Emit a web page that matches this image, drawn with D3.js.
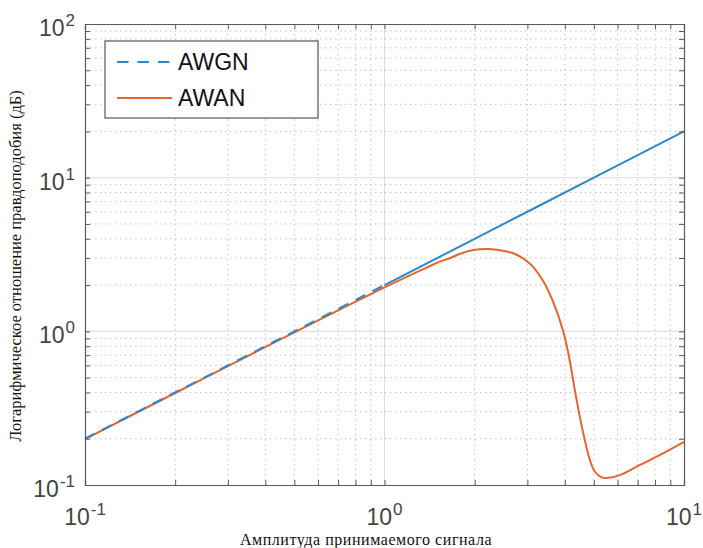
<!DOCTYPE html>
<html>
<head>
<meta charset="utf-8">
<script src="https://cdn.jsdelivr.net/npm/d3@7"></script>
<style>
  html, body { margin: 0; padding: 0; background: #ffffff; }
  svg { display: block; }
</style>
</head>
<body>
<div id="chart"></div>
<script>
// Received amplitude samples and the log-likelihood ratio for each noise model
const awgnAmp = [0.1, 0.2, 0.5, 1, 2, 5, 10];
const awgnLLR = [0.2, 0.4, 1, 2, 4, 10, 20];

const awanAmp = [0.1, 0.2, 0.3, 0.5, 0.7, 1, 1.2, 1.4, 1.53, 1.65, 1.79, 1.98, 2.22, 2.56,
                 2.69, 2.83, 3.0, 3.14, 3.39, 3.66, 3.94, 4.11, 4.38, 4.61, 4.85, 5.04, 5.31,
                 5.52, 6.11, 7.13, 8.32, 10];
const awanLLR = [0.199, 0.397, 0.594, 0.985, 1.37, 1.93, 2.29, 2.63, 2.84, 2.99, 3.20, 3.38,
                 3.43, 3.31, 3.22, 3.07, 2.84, 2.62, 2.12, 1.55, 1.02, 0.72, 0.357, 0.217,
                 0.1455, 0.122, 0.1122, 0.111, 0.116, 0.135, 0.157, 0.191];

const seriesNames = ["AWGN", "AWAN"];
const xTickValues = [0.1, 1, 10];
const xTickExp = ["-1", "0", "1"];
const yTickValues = [0.1, 1, 10, 100];
const yTickExp = ["-1", "0", "1", "2"];
const xLabel = "Амплитуда принимаемого сигнала";
const yLabel = "Логарифмическое отношение правдоподобия (дБ)";

(function draw() {
  const W = 703, H = 548;
  const pLeft = 85, pRight = 684, pTop = 24, pBottom = 485;

  const blue = "#2f87c9", orange = "#e2662e";
  const axisColor = "#5a5a5a", tickText = "#444444";

  const svg = d3.select("#chart").append("svg").attr("width", W).attr("height", H);

  const x = d3.scaleLog().domain([0.1, 10]).range([pLeft, pRight]);
  const y = d3.scaleLog().domain([0.1, 100]).range([pBottom, pTop]);

  // minor positions inside each decade
  function minorsOf(domain) {
    const out = [];
    for (let p = Math.log10(domain[0]); p < Math.log10(domain[1]) - 1e-9; p++) {
      for (let k = 2; k <= 9; k++) out.push(k * Math.pow(10, p));
    }
    return out;
  }
  const xMinor = minorsOf(x.domain());
  const yMinor = minorsOf(y.domain());

  // grid
  const grid = svg.append("g");
  grid.selectAll(".xmin").data(xMinor).join("line")
    .attr("x1", d => x(d)).attr("x2", d => x(d)).attr("y1", pTop).attr("y2", pBottom)
    .attr("stroke", "#c4c4c4").attr("stroke-width", 1).attr("stroke-dasharray", "1.5,3.5");
  grid.selectAll(".ymin").data(yMinor).join("line")
    .attr("y1", d => y(d)).attr("y2", d => y(d)).attr("x1", pLeft).attr("x2", pRight)
    .attr("stroke", "#c4c4c4").attr("stroke-width", 1).attr("stroke-dasharray", "1.5,3.5");
  grid.selectAll(".xmaj").data(xTickValues.slice(1, -1)).join("line")
    .attr("x1", d => x(d)).attr("x2", d => x(d)).attr("y1", pTop).attr("y2", pBottom)
    .attr("stroke", "#dcdcdc").attr("stroke-width", 1);
  grid.selectAll(".ymaj").data(yTickValues.slice(1, -1)).join("line")
    .attr("y1", d => y(d)).attr("y2", d => y(d)).attr("x1", pLeft).attr("x2", pRight)
    .attr("stroke", "#dcdcdc").attr("stroke-width", 1);

  // series
  const line = d3.line().curve(d3.curveCatmullRom.alpha(0.5)).x(d => x(d[0])).y(d => y(d[1]));
  const awgnPts = awgnAmp.map((a, i) => [a, awgnLLR[i]]);
  const awanPts = awanAmp.map((a, i) => [a, awanLLR[i]]);

  svg.append("path").datum(awgnPts.filter(d => d[0] >= 1)).attr("d", line)
    .attr("fill", "none").attr("stroke", blue).attr("stroke-width", 2);
  svg.append("path").datum(awanPts).attr("d", line)
    .attr("fill", "none").attr("stroke", orange).attr("stroke-width", 2);
  svg.append("path").datum(awgnPts.filter(d => d[0] <= 1)).attr("d", line)
    .attr("fill", "none").attr("stroke", blue).attr("stroke-width", 2)
    .attr("stroke-dasharray", "11,8");

  // axes with inward ticks on all four sides
  const tickLen = 5;
  const allX = xTickValues.concat(xMinor);
  const allY = yTickValues.concat(yMinor);
  const axes = svg.append("g").attr("color", axisColor);
  axes.append("g").attr("transform", `translate(0,${pBottom})`)
    .call(d3.axisBottom(x).tickValues(allX).tickSize(-tickLen).tickFormat(""));
  axes.append("g").attr("transform", `translate(0,${pTop})`)
    .call(d3.axisTop(x).tickValues(allX).tickSize(-tickLen).tickFormat(""));
  axes.append("g").attr("transform", `translate(${pLeft},0)`)
    .call(d3.axisLeft(y).tickValues(allY).tickSize(-tickLen).tickFormat(""));
  axes.append("g").attr("transform", `translate(${pRight},0)`)
    .call(d3.axisRight(y).tickValues(allY).tickSize(-tickLen).tickFormat(""));
  axes.selectAll(".domain").attr("stroke-width", 1.2);

  // tick labels as powers of ten
  const font = "'Liberation Sans', Arial, sans-serif";
  function powerLabel(g, exp, anchor) {
    const t = g.append("text").attr("font-family", font).attr("fill", tickText)
      .attr("text-anchor", anchor);
    t.append("tspan").attr("font-size", 23).text("10");
    t.append("tspan").attr("font-size", 17).attr("dy", -10).attr("dx", 1).text(exp);
    return t;
  }
  xTickValues.forEach((v, i) => {
    const g = svg.append("g").attr("transform", `translate(${x(v)},525)`);
    powerLabel(g, xTickExp[i], "middle");
  });
  yTickValues.forEach((v, i) => {
    const g = svg.append("g").attr("transform", `translate(75,${y(v) + 12})`);
    powerLabel(g, yTickExp[i], "end");
  });

  // axis titles
  svg.append("text").attr("x", 366).attr("y", 544.5).attr("text-anchor", "middle")
    .attr("font-family", "'Liberation Serif', 'Times New Roman', serif")
    .attr("font-size", 16).attr("letter-spacing", 0.55).attr("fill", "#111").text(xLabel);
  svg.append("text").attr("transform", "translate(21,266) rotate(-90)")
    .attr("text-anchor", "middle")
    .attr("font-family", "'Liberation Serif', 'Times New Roman', serif")
    .attr("font-size", 16.5).attr("fill", "#111").text(yLabel);

  // legend
  const lg = svg.append("g");
  lg.append("rect").attr("x", 105).attr("y", 41).attr("width", 213).attr("height", 77)
    .attr("fill", "#fff").attr("stroke", "#555").attr("stroke-width", 1.2);
  const legendRows = [
    { name: seriesNames[0], color: blue, dash: "11.5,9", cy: 62 },
    { name: seriesNames[1], color: orange, dash: null, cy: 98 }
  ];
  legendRows.forEach(r => {
    lg.append("line").attr("x1", 117).attr("x2", 172).attr("y1", r.cy).attr("y2", r.cy)
      .attr("stroke", r.color).attr("stroke-width", 2)
      .attr("stroke-dasharray", r.dash);
    lg.append("text").attr("x", 178).attr("y", r.cy + 8)
      .attr("font-family", font).attr("font-size", 23).attr("fill", "#111").text(r.name);
  });
})();
</script>
</body>
</html>
